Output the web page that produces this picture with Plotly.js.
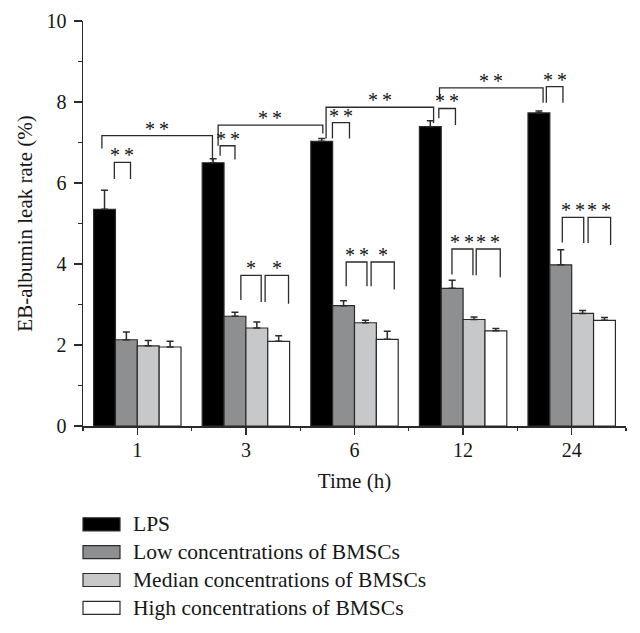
<!DOCTYPE html>
<html>
<head>
<meta charset="utf-8">
<script src="https://cdn.plot.ly/plotly-3.0.1.min.js"></script>
<style>html,body{margin:0;padding:0;background:#fff;}#chart{width:640px;height:633px;}</style>
</head>
<body>
<div id="chart"></div>
<script>
// ---- data ----
const categories = ['1', '3', '6', '12', '24'];
const seriesNames = ['LPS', 'Low concentrations of BMSCs', 'Median concentrations of BMSCs', 'High concentrations of BMSCs'];
const seriesColors = ['#000000', '#8e8f91', '#c7c8ca', '#ffffff'];
const lps = [5.35, 6.50, 7.03, 7.39, 7.73];
const lpsErr = [0.47, 0.10, 0.07, 0.15, 0.05];
const low = [2.13, 2.71, 2.97, 3.40, 3.98];
const lowErr = [0.19, 0.10, 0.12, 0.20, 0.37];
const median = [1.98, 2.42, 2.55, 2.63, 2.78];
const medianErr = [0.13, 0.15, 0.06, 0.06, 0.07];
const high = [1.95, 2.09, 2.14, 2.35, 2.61];
const highErr = [0.14, 0.14, 0.20, 0.06, 0.07];
const yTickVals = [0, 2, 4, 6, 8, 10];
// significance brackets: [group0, bar0, group1, bar1, topValue, leftEnd, rightEnd, label]
const brackets = [
  [0, -0.12, 1, -0.03, 7.17, 6.85, 6.54, '**'],
  [0, 0.45, 0, 1.19, 6.51, 6.10, 6.10, '**'],
  [1, 0.23, 2, 0.05, 7.43, 6.92, 7.22, '**'],
  [1, 0.32, 1, 1.00, 6.92, 6.67, 6.58, '**'],
  [2, 0.20, 3, 0.15, 7.87, 7.10, 7.48, '**'],
  [2, 0.49, 2, 1.27, 7.49, 7.10, 7.10, '**'],
  [3, 0.42, 4, 0.19, 8.35, 8.07, 7.98, '**'],
  [3, 0.39, 3, 1.15, 7.84, 7.60, 7.43, '**'],
  [4, 0.34, 4, 1.10, 8.38, 7.98, 7.98, '**'],
  [1, 1.27, 1, 2.20, 3.72, 3.11, 3.06, '*'],
  [1, 2.38, 1, 3.45, 3.72, 3.06, 3.02, '*'],
  [2, 1.12, 2, 2.07, 4.05, 3.45, 3.45, '**'],
  [2, 2.26, 2, 3.32, 4.05, 3.45, 3.37, '*'],
  [3, 0.99, 3, 1.95, 4.37, 3.74, 3.72, '**'],
  [3, 2.10, 3, 3.20, 4.37, 3.72, 3.67, '**'],
  [4, 1.07, 4, 2.05, 5.15, 4.53, 4.52, '**'],
  [4, 2.25, 4, 3.28, 5.15, 4.52, 4.47, '**']
];

// ---- chart ----
const FONT = 'Liberation Serif, Times New Roman, serif';
const INK = '#2b2b2b';
const TXT = '#161616';
const BARGAP = 0.195;
const barW = (1 - BARGAP) / 4;
const xIdx = categories.map((c, i) => i);
const vals = [lps, low, median, high];
const errs = [lpsErr, lowErr, medianErr, highErr];

const traces = vals.map((v, k) => ({
  type: 'bar',
  name: seriesNames[k],
  x: xIdx,
  y: v,
  marker: {color: seriesColors[k], line: {color: INK, width: 1.2}},
  error_y: {type: 'data', symmetric: false, array: errs[k], arrayminus: v.map(() => 0),
            color: INK, thickness: 1.5, width: 3.5},
  showlegend: false,
  hoverinfo: 'skip'
}));

const pos = (g, b) => g + (b - 1.5) * barW;
const shapes = [];
const annotations = [];
brackets.forEach(br => {
  const [g0, b0, g1, b1, top, le, re, label] = br;
  const x0 = pos(g0, b0), x1 = pos(g1, b1);
  shapes.push({
    type: 'path', xref: 'x', yref: 'y',
    path: `M ${x0} ${le} L ${x0} ${top} L ${x1} ${top} L ${x1} ${re}`,
    line: {color: INK, width: 1.3}
  });
  annotations.push({
    xref: 'x', yref: 'y', x: (x0 + x1) / 2, y: top, text: label.split('').join('\u2009'),
    showarrow: false, xanchor: 'center', yanchor: 'bottom', yshift: -6,
    font: {family: FONT, size: 20, color: '#111'}
  });
});

// manual legend below plot (plot area px: x 83..626, y 21..425.7)
const PL = 83, PW = 543, PB = 425.7, PH = 404.7;
const px2x = p => (p - PL) / PW;
const py2y = p => (PB - p) / PH;
seriesNames.forEach((n, k) => {
  const cy = 524 + k * 27.8;
  shapes.push({
    type: 'rect', xref: 'paper', yref: 'paper',
    x0: px2x(83), x1: px2x(120), y0: py2y(cy + 6.5), y1: py2y(cy - 6.5),
    fillcolor: seriesColors[k], line: {color: INK, width: 1.2}
  });
  annotations.push({
    xref: 'paper', yref: 'paper', x: px2x(131), y: py2y(cy),
    xanchor: 'left', yanchor: 'middle', text: n, showarrow: false,
    font: {family: FONT, size: 21.5, color: TXT}
  });
});

const layout = {
  width: 640, height: 633,
  margin: {l: 83, r: 14, t: 21, b: 207.3, pad: 0},
  paper_bgcolor: '#fff', plot_bgcolor: '#fff',
  font: {family: FONT, size: 20, color: TXT},
  barmode: 'group', bargap: BARGAP, bargroupgap: 0,
  showlegend: false,
  xaxis: {
    type: 'linear', range: [-0.5, 4.5], tickmode: 'array', tickvals: xIdx, ticktext: categories,
    showgrid: false, zeroline: false, showline: true, linecolor: INK, linewidth: 1.5,
    ticks: 'outside', ticklen: 7, tickwidth: 1.3, tickcolor: INK,
    minor: {tickmode: 'linear', tick0: -0.5, dtick: 1, ticks: 'outside', ticklen: 3, tickwidth: 1.3, tickcolor: INK, showgrid: false},
    tickfont: {family: FONT, size: 20, color: TXT},
    ticklabelstandoff: -2,
    title: {text: 'Time (h)', font: {family: FONT, size: 21, color: TXT}, standoff: 14},
    fixedrange: true
  },
  yaxis: {
    range: [0, 10], tickmode: 'array', tickvals: yTickVals,
    showgrid: false, zeroline: false, showline: true, linecolor: INK, linewidth: 1.5,
    ticks: 'outside', ticklen: 8, tickwidth: 1.3, tickcolor: INK,
    minor: {tickmode: 'linear', tick0: 1, dtick: 2, ticks: 'outside', ticklen: 4, tickwidth: 1.3, tickcolor: INK, showgrid: false},
    tickfont: {family: FONT, size: 20, color: TXT},
    ticklabelstandoff: 3,
    title: {text: 'EB-albumin leak rate (%)', font: {family: FONT, size: 21, color: TXT}, standoff: 8},
    fixedrange: true
  },
  shapes: shapes,
  annotations: annotations
};

Plotly.newPlot('chart', traces, layout, {staticPlot: true, displayModeBar: false});
</script>
</body>
</html>
